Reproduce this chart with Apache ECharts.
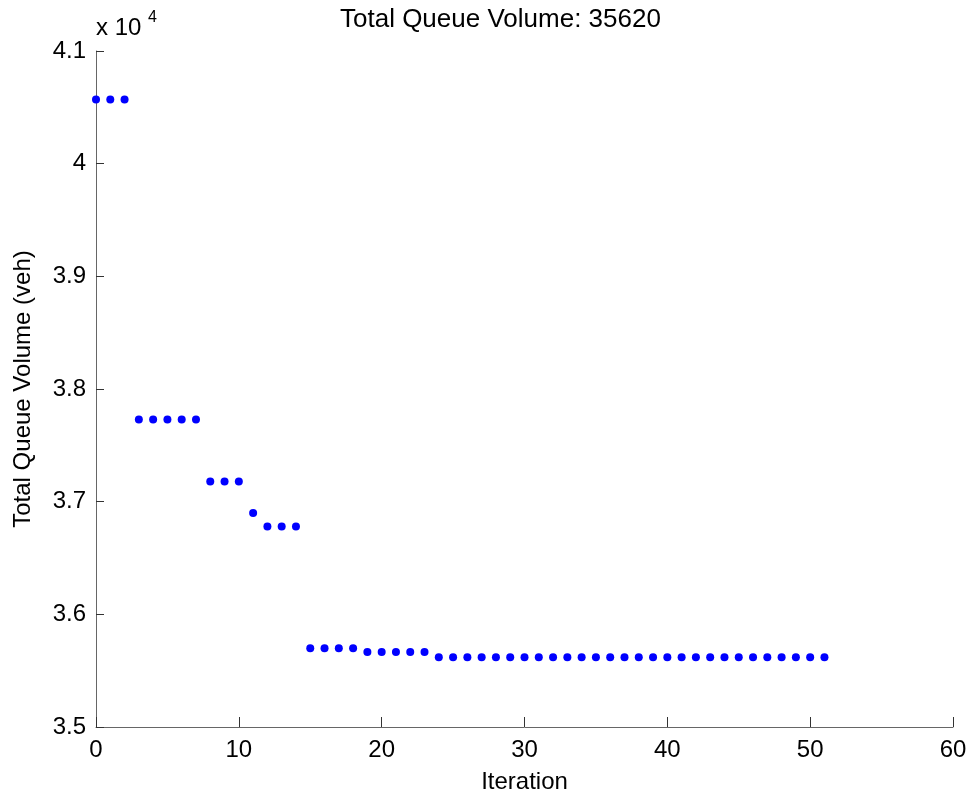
<!DOCTYPE html>
<html>
<head>
<meta charset="utf-8">
<script src="https://cdn.jsdelivr.net/npm/echarts@6/dist/echarts.min.js"></script>
<style>html,body{margin:0;padding:0;background:#fff}#c{width:972px;height:796px}</style>
</head>
<body>
<div id="c"></div>
<script>
const iterations = [0,1,2,3,4,5,6,7,8,9,10,11,12,13,14,15,16,17,18,19,20,21,22,23,24,25,26,27,28,29,30,31,32,33,34,35,36,37,38,39,40,41,42,43,44,45,46,47,48,49,50,51];
const queueVolume = [40570,40570,40570,37730,37730,37730,37730,37730,37180,37180,37180,36900,36780,36780,36780,35700,35700,35700,35700,35665,35665,35665,35665,35665,35620,35620,35620,35620,35620,35620,35620,35620,35620,35620,35620,35620,35620,35620,35620,35620,35620,35620,35620,35620,35620,35620,35620,35620,35620,35620,35620,35620];
const titleText = 'Total Queue Volume: 35620';
const xName = 'Iteration';
const yName = 'Total Queue Volume (veh)';
const scaleText = 'x 10';
const scaleExp = '4';

const font = 'Liberation Sans, Arial, sans-serif';
const chart = echarts.init(document.getElementById('c'));
chart.setOption({
  animation: false,
  backgroundColor: '#fff',
  title: {text: titleText, left: 340, top: 7, padding: 0,
    textStyle: {fontFamily: font, fontSize: 26, fontWeight: 'normal', color: '#000'}},
  graphic: [
    {type: 'text', left: 96, top: 16, style: {text: scaleText, fontFamily: font, fontSize: 24, fill: '#000'}},
    {type: 'text', left: 148, top: 10, style: {text: scaleExp, fontFamily: font, fontSize: 16, fill: '#000'}}
  ],
  grid: {left: 96, right: 19, top: 51, bottom: 69, containLabel: false, outerBoundsMode: 'none'},
  xAxis: {
    type: 'value', min: 0, max: 60, interval: 10,
    name: xName, nameLocation: 'middle', nameGap: 43,
    nameTextStyle: {fontFamily: font, fontSize: 24, color: '#000'},
    axisLine: {show: true, lineStyle: {color: '#666', width: 1}},
    axisTick: {show: true, inside: true, length: 10, lineStyle: {color: '#333'}},
    axisLabel: {fontFamily: font, fontSize: 24, color: '#000', margin: 11},
    splitLine: {show: false}
  },
  yAxis: {
    type: 'value', min: 35000, max: 41000, interval: 1000,
    name: yName, nameLocation: 'middle', nameGap: 61,
    nameTextStyle: {fontFamily: font, fontSize: 24, color: '#000'},
    axisLine: {show: true, lineStyle: {color: '#666', width: 1}},
    axisTick: {show: true, inside: true, length: 8, lineStyle: {color: '#333'}},
    axisLabel: {fontFamily: font, fontSize: 24, color: '#000', margin: 10,
      formatter: v => String(parseFloat((v / 10000).toFixed(2)))},
    splitLine: {show: false}
  },
  series: [{
    type: 'scatter',
    data: iterations.map((x, i) => [x, queueVolume[i]]),
    symbol: 'circle', symbolSize: 8,
    itemStyle: {color: '#0000ff', opacity: 1}
  }]
});
</script>
</body>
</html>
